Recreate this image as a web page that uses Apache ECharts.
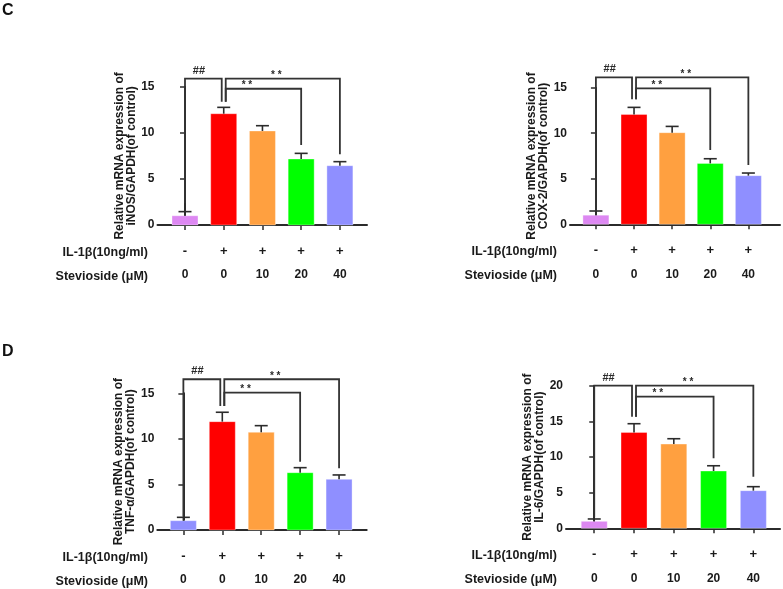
<!DOCTYPE html>
<html>
<head>
<meta charset="utf-8">
<script src="https://cdn.jsdelivr.net/npm/echarts@6/dist/echarts.min.js"></script>
<style>html,body{margin:0;padding:0;background:#fff}#c{width:783px;height:589px}</style>
</head>
<body>
<div id="c"></div>
<script>
// ---------- data ----------
const il1bRow = ['-', '+', '+', '+', '+'];
const stevRow = ['0', '0', '10', '20', '40'];
const rowHeaders = ['IL-1β(10ng/ml)', 'Stevioside (μM)'];
const yTicks15 = [0, 5, 10, 15];
const yTicks20 = [0, 5, 10, 15, 20];

const iNOS_mean = [1.0, 12.07, 10.2, 7.16, 6.43];
const iNOS_sem  = [0.45, 0.69, 0.57, 0.61, 0.44];
const iNOS_bracketTops = [15.88, 14.78];
const iNOS_bracketLegs = [2.35, 13.37, 8.67, 7.67];

const COX2_mean = [1.0, 12.07, 10.06, 6.69, 5.34];
const COX2_sem  = [0.46, 0.77, 0.69, 0.51, 0.29];
const COX2_bracketTops = [16.13, 14.93];
const COX2_bracketLegs = [1.49, 13.73, 8.16, 6.51];

const TNF_mean = [1.02, 11.89, 10.72, 6.29, 5.56];
const TNF_sem  = [0.37, 1.03, 0.73, 0.55, 0.48];
const TNF_bracketTops = [16.54, 15.07];
const TNF_bracketLegs = [1.46, 13.61, 7.49, 6.77];

const IL6_mean = [0.98, 13.48, 11.84, 8.05, 5.29];
const IL6_sem  = [0.33, 1.22, 0.75, 0.74, 0.56];
const IL6_bracketTops = [20.04, 18.5];
const IL6_bracketLegs = [1.55, 15.69, 9.84, 7.25];

// ---------- styles ----------
const FONT = '"Liberation Sans", Arial, Helvetica, sans-serif';
const AX = '#2b2b2b';
const TXT = '#1a1a1a';
const violet = '#dd88f2', red = '#ff0000', orange = '#ffa040', green = '#00ff00', blue = '#8f8fff';

const panels = [
  {mean: iNOS_mean, sem: iNOS_sem, tops: iNOS_bracketTops, legs: iNOS_bracketLegs, ticks: yTicks15,
   colors: [violet, red, orange, green, blue], name: 'Relative mRNA expression of\niNOS/GAPDH(of control)',
   grid: {left: 157.5, top: 86.7, width: 209.5, height: 138.3}, xMin: -0.71, xMax: 4.70, headerX: 148},
  {mean: COX2_mean, sem: COX2_sem, tops: COX2_bracketTops, legs: COX2_bracketLegs, ticks: yTicks15,
   colors: [violet, red, orange, green, blue], name: 'Relative mRNA expression of\nCOX-2/GAPDH(of control)',
   grid: {left: 570, top: 87.7, width: 210, height: 136.6}, xMin: -0.68, xMax: 4.83, headerX: 557},
  {mean: TNF_mean, sem: TNF_sem, tops: TNF_bracketTops, legs: TNF_bracketLegs, ticks: yTicks15,
   colors: [blue, red, orange, green, blue], name: 'Relative mRNA expression of\nTNF-α/GAPDH(of control)',
   grid: {left: 157.3, top: 393.3, width: 209.4, height: 136.7}, xMin: -0.67, xMax: 4.71, headerX: 148},
  {mean: IL6_mean, sem: IL6_sem, tops: IL6_bracketTops, legs: IL6_bracketLegs, ticks: yTicks20,
   colors: [violet, red, orange, green, blue], name: 'Relative mRNA expression of\nIL-6/GAPDH(of control)',
   grid: {left: 566, top: 386, width: 214, height: 142.3}, xMin: -0.71, xMax: 4.67, headerX: 557}
];

const grids = [], xAxes = [], yAxes = [], series = [], graphics = [];

panels.forEach((p, k) => {
  grids.push(Object.assign({outerBoundsMode: 'none', containLabel: false}, p.grid));
  xAxes.push({
    type: 'value', gridIndex: k, min: p.xMin, max: p.xMax,
    axisLine: {show: true, lineStyle: {color: AX, width: 2}},
    axisTick: {show: true, length: 5, lineStyle: {color: AX, width: 1.5}, customValues: [0, 1, 2, 3, 4]},
    splitLine: {show: false},
    axisLabel: {
      show: true, margin: 14, customValues: [0, 1, 2, 3, 4],
      formatter: v => { const i = Math.round(v); return '{a|' + il1bRow[i] + '}\n{b|' + stevRow[i] + '}'; },
      rich: {
        a: {fontFamily: FONT, fontWeight: 'bold', fontSize: 13, lineHeight: 24, color: TXT},
        b: {fontFamily: FONT, fontWeight: 'bold', fontSize: 12, lineHeight: 24, color: TXT}
      }
    }
  });
  const yMax = p.ticks[p.ticks.length - 1];
  yAxes.push({
    type: 'value', gridIndex: k, min: p.ticks[0], max: yMax, interval: p.ticks[1] - p.ticks[0],
    axisLine: {show: true, lineStyle: {color: AX, width: 2}},
    axisTick: {show: true, length: 5, lineStyle: {color: AX, width: 1.5}},
    splitLine: {show: false},
    axisLabel: {fontFamily: FONT, fontWeight: 'bold', fontSize: 12, color: TXT, margin: 3},
    name: p.name, nameLocation: 'middle', nameRotate: 90, nameGap: 17,
    nameTextStyle: {fontFamily: FONT, fontWeight: 'bold', fontSize: 12, lineHeight: 12, color: TXT}
  });

  // bars
  series.push({
    type: 'custom', xAxisIndex: k, yAxisIndex: k, clip: false, z: 3,
    data: p.mean.map((v, i) => [i, v]),
    renderItem: (params, api) => {
      const i = api.value(0), v = api.value(1);
      const a = api.coord([i, 0]), b = api.coord([i, v]);
      return {type: 'rect', shape: {x: a[0] - 13, y: b[1], width: 26, height: a[1] - b[1]},
        style: {fill: p.colors[i], stroke: 'rgba(255,255,255,0.35)', lineWidth: 1}};
    }
  });
  // error bars
  series.push({
    type: 'custom', xAxisIndex: k, yAxisIndex: k, clip: false, z: 4,
    data: p.mean.map((v, i) => [i, v, v + p.sem[i]]),
    renderItem: (params, api) => {
      const i = api.value(0);
      const a = api.coord([i, api.value(1)]), b = api.coord([i, api.value(2)]);
      const st = {stroke: AX, lineWidth: 1.6};
      return {type: 'group', children: [
        {type: 'line', shape: {x1: a[0], y1: a[1], x2: b[0], y2: b[1]}, style: st},
        {type: 'line', shape: {x1: b[0] - 6.5, y1: b[1], x2: b[0] + 6.5, y2: b[1]}, style: st}
      ]};
    }
  });
  // significance brackets: [x1, x2, top, leg1, leg2, pxOffset1, pxOffset2, label, labelX, labelDy]
  const br = [
    [0, 1, p.tops[0], p.legs[0], p.legs[1], 0, -2, '##', 0.36, -8],
    [1, 4, p.tops[0], p.legs[1], p.legs[3], 2, 0, '* *', 2.36, -3],
    [1, 3, p.tops[1], p.legs[1], p.legs[2], 2, 0, '* *', 1.6, -3]
  ];
  series.push({
    type: 'custom', xAxisIndex: k, yAxisIndex: k, clip: false, z: 5,
    data: br.map(b => [b[0], b[2]]),
    renderItem: (params, api) => {
      const b = br[params.dataIndex];
      const p1 = api.coord([b[0], b[3]]), p2 = api.coord([b[0], b[2]]);
      const p3 = api.coord([b[1], b[2]]), p4 = api.coord([b[1], b[4]]);
      const lp = api.coord([b[8], b[2]]);
      return {type: 'group', children: [
        {type: 'polyline', shape: {points: [[p1[0] + b[5], p1[1]], [p2[0] + b[5], p2[1]], [p3[0] + b[6], p3[1]], [p4[0] + b[6], p4[1]]]},
          style: {stroke: '#333', lineWidth: 1.8, fill: null}},
        {type: 'text', style: {text: b[7], x: lp[0], y: lp[1] + b[9], align: 'center', verticalAlign: 'middle',
          font: 'bold ' + (b[7] === '##' ? 11 : 10) + 'px ' + FONT, fill: '#2a2a2a'}}
      ]};
    }
  });

  // row headers
  const axisY = p.grid.top + p.grid.height;
  rowHeaders.forEach((t, r) => {
    graphics.push({type: 'text', x: p.headerX, y: axisY + 27.5 + r * 24,
      style: {text: t, align: 'right', verticalAlign: 'middle', font: 'bold 12.5px ' + FONT, fill: TXT}});
  });
});

graphics.push({type: 'text', x: 2, y: 11, style: {text: 'C', verticalAlign: 'middle', font: 'bold 16px ' + FONT, fill: '#111'}});
graphics.push({type: 'text', x: 2, y: 352, style: {text: 'D', verticalAlign: 'middle', font: 'bold 16px ' + FONT, fill: '#111'}});

const chart = echarts.init(document.getElementById('c'), null, {renderer: 'canvas'});
chart.setOption({
  animation: false,
  backgroundColor: '#fff',
  grid: grids, xAxis: xAxes, yAxis: yAxes, series: series, graphic: graphics
});
</script>
</body>
</html>
